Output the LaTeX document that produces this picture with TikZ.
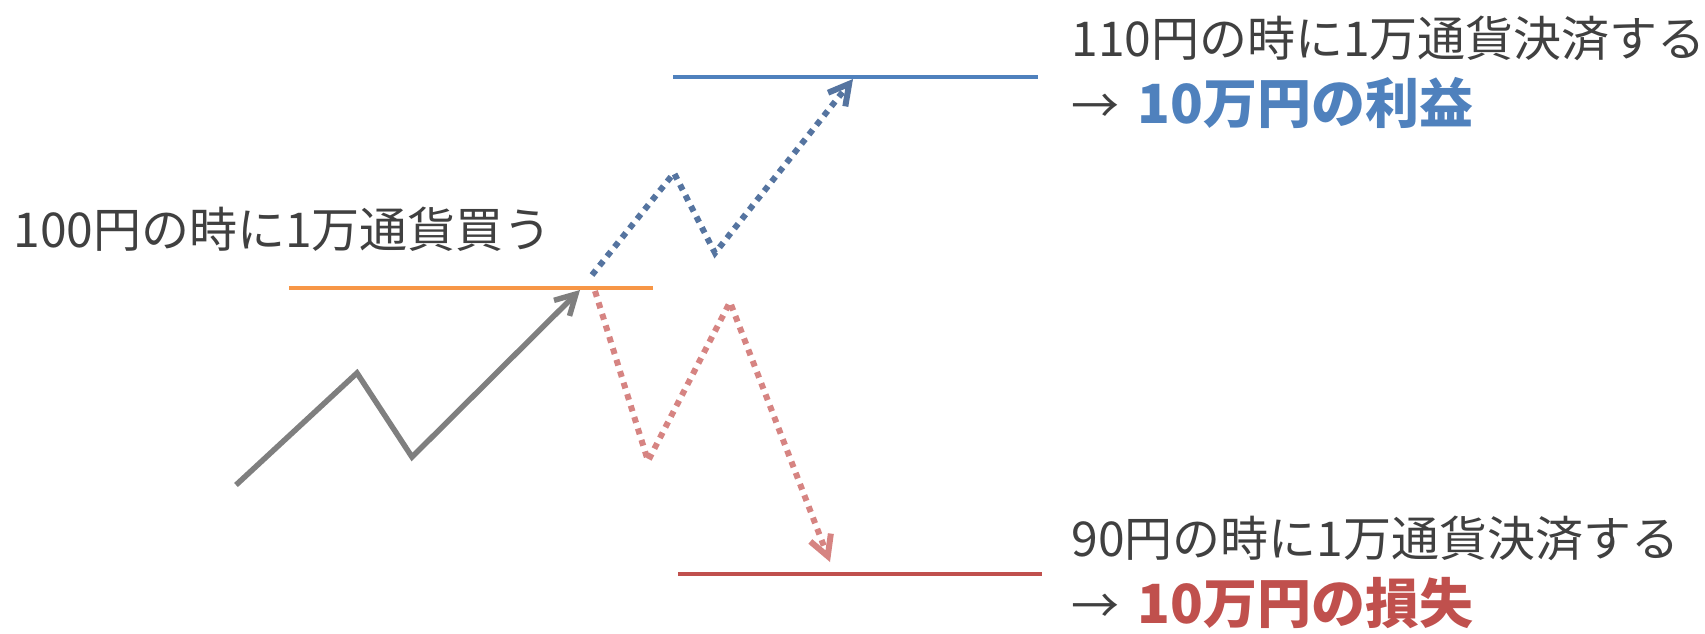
\documentclass[tikz,border=0pt]{standalone}
\usepackage{fontspec}
\setmainfont{Noto Sans CJK JP}
\usetikzlibrary{arrows.meta, positioning}

\definecolor{txtGray}{HTML}{404040}
\definecolor{moveGray}{HTML}{7F7F7F}
\definecolor{buyOrange}{HTML}{F79646}
\definecolor{winBlue}{HTML}{4F81BD}
\definecolor{winDot}{HTML}{5574A0}
\definecolor{lossRed}{HTML}{C0504D}
\definecolor{lossDot}{HTML}{D68482}

\newcommand{\resultFont}{\fontsize{27}{30}\selectfont\bfseries}

\begin{document}
\begin{tikzpicture}[
    x=0.5pt, y=-0.5pt,
    font=\fontsize{24}{28}\selectfont,
    % Text Style
    note/.style={inner sep=0pt, text=txtGray},
    % Level Styles
    level/.style={line width=2pt},
    buyLevel/.style={level, draw=buyOrange},
    winLevel/.style={level, draw=winBlue},
    lossLevel/.style={level, draw=lossRed},
    % Arrow Styles
    myTip/.style={-{Straight Barb[length=10pt, width=11pt]}},
    pastMove/.style={myTip, line width=2.75pt, draw=moveGray},
    futureMove/.style={myTip, line width=3pt, dash pattern=on 3pt off 3pt},
    upMove/.style={futureMove, draw=winDot},
    downMove/.style={futureMove, draw=lossDot}
]
    \useasboundingbox (0,0) rectangle (1705,633);

    % --- PRICE POINTS ---
    \coordinate (p0) at (236,485);
    \coordinate (p1) at (357,373);
    \coordinate (p2) at (412,457);
    \coordinate (entry) at (580,290);

    \coordinate (u0) at (592,275);
    \coordinate (u1) at (674,173);
    \coordinate (u2) at (715,253);
    \coordinate (take) at (853,79);

    \coordinate (d0) at (595,291);
    \coordinate (d1) at (648,461);
    \coordinate (d2) at (730,302);
    \coordinate (stop) at (830,562);

    % --- LEVELS ---
    \coordinate (buyL) at (289,288);  \coordinate (buyR) at (653,288);
    \coordinate (winL) at (673,77);   \coordinate (winR) at (1038,77);
    \coordinate (lossL) at (678,574); \coordinate (lossR) at (1042,574);

    \draw[buyLevel] (buyL) -- (buyR);
    \draw[winLevel] (winL) -- (winR);
    \draw[lossLevel] (lossL) -- (lossR);

    % --- MOVES ---
    \draw[pastMove] (p0) -- (p1) -- (p2) -- (entry);
    \draw[upMove] (u0) -- (u1) -- (u2) -- (take);
    \draw[downMove] (d0) -- (d1) -- (d2) -- (stop);

    % --- LABELS ---
    \node[note, anchor=west] (buyTxt) at (13,229) {100円の時に1万通貨買う};

    \node[note, anchor=west] (winTxt) at (1071,38) {110円の時に1万通貨決済する};
    \node[note, below=8pt of winTxt.south west, anchor=north west] (winRes)
        {→\hspace{9pt}{\resultFont\color{winBlue}10万円の利益}};

    \node[note, anchor=west] (lossTxt) at (1071,538) {90円の時に1万通貨決済する};
    \node[note, below=8pt of lossTxt.south west, anchor=north west] (lossRes)
        {→\hspace{9pt}{\resultFont\color{lossRed}10万円の損失}};

\end{tikzpicture}
\end{document}
